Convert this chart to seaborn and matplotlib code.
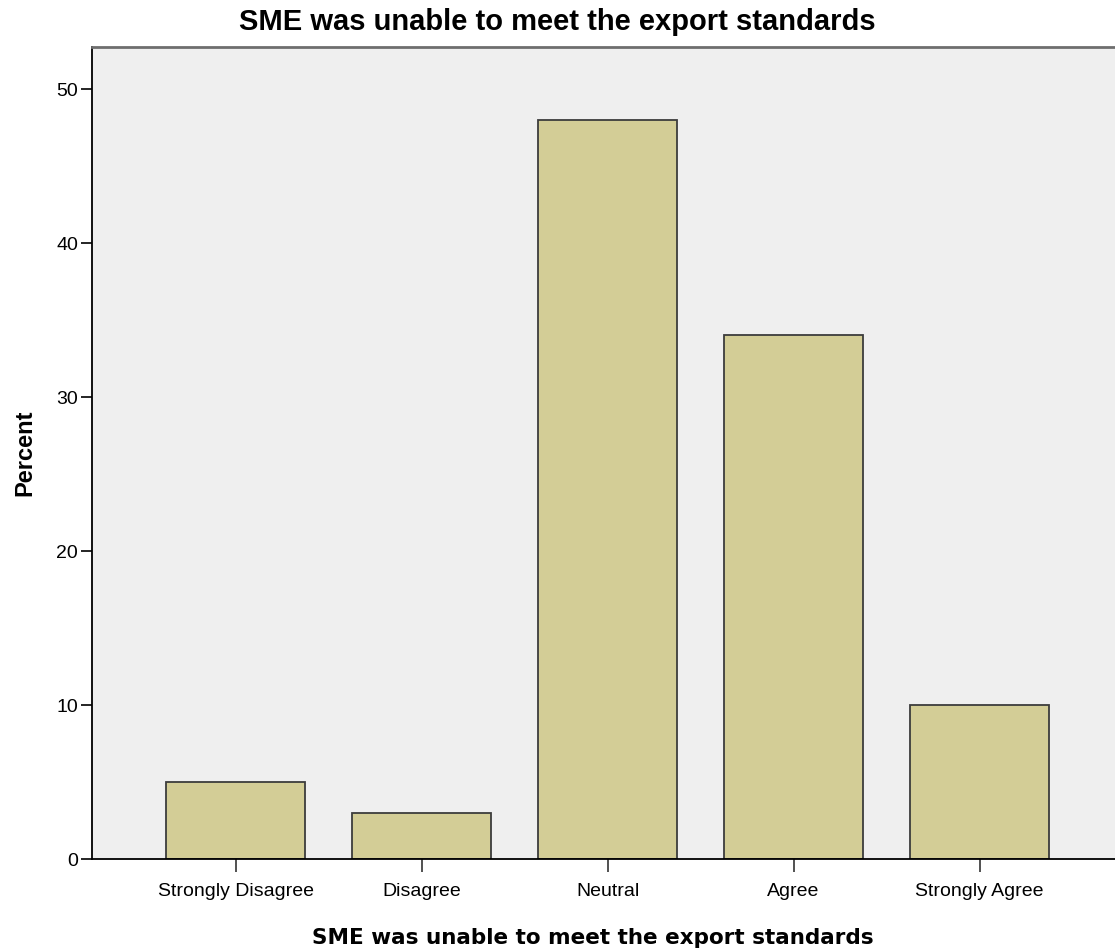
import matplotlib
matplotlib.use("Agg")
import matplotlib.pyplot as plt
import seaborn as sns
import pandas as pd

# Data
categories = ["Strongly Disagree", "Disagree", "Neutral", "Agree", "Strongly Agree"]
percent = [5, 3, 48, 34, 10]
title = "SME was unable to meet the export standards"

df = pd.DataFrame({"category": categories, "percent": percent})

sns.set_style("white")
plt.rcParams["font.family"] = ["Liberation Sans", "DejaVu Sans"]
plt.rcParams["text.color"] = "black"
plt.rcParams["axes.labelcolor"] = "black"
plt.rcParams["xtick.color"] = "black"
plt.rcParams["ytick.color"] = "black"

fig = plt.figure(figsize=(11.15, 9.51), dpi=100)
ax = fig.add_axes([92 / 1115, 92 / 951, 1 - 92 / 1115, 812 / 951])
ax.set_facecolor("#efefef")

sns.barplot(data=df, x="category", y="percent", order=categories,
            color="#d3cd96", saturation=1, width=0.747,
            edgecolor="#3c3c3c", linewidth=1.3, ax=ax)

ax.set_xlim(-0.772, 4.728)
ax.set_ylim(0, 52.73)
ax.set_yticks([0, 10, 20, 30, 40, 50])

for side in ["left", "bottom"]:
    ax.spines[side].set_color("black")
    ax.spines[side].set_linewidth(1.3)
ax.spines["top"].set_color("#6e6e6e")
ax.spines["top"].set_linewidth(2)
ax.spines["right"].set_visible(False)

ax.tick_params(axis="y", direction="out", length=8, width=1.2,
               labelsize=14, pad=2, left=True)
ax.tick_params(axis="x", direction="out", length=9, width=1.2, color="#333333",
               labelsize=14, pad=8, bottom=True)

ax.set_xlabel(title, fontsize=15.5, fontweight="bold", family="DejaVu Sans")
ax.xaxis.set_label_coords(0.49, -0.085)
ax.set_ylabel("Percent", fontsize=17, fontweight="bold", labelpad=14)
# title is centred on the whole figure, not the plot area
fig.text(0.5, 1 - 22 / 951, title, fontsize=21, fontweight="bold",
         ha="center", va="center")

fig.savefig("out.png", dpi=100)
